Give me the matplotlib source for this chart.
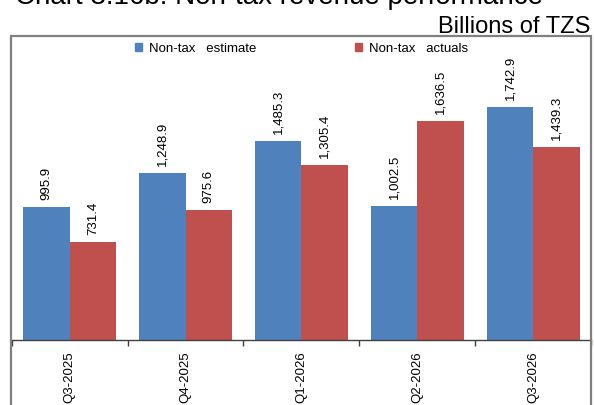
import matplotlib
matplotlib.use("Agg")
import matplotlib.pyplot as plt
from matplotlib.patches import Patch, Rectangle
import numpy as np

plt.rcParams['font.family'] = ['Liberation Sans', 'DejaVu Sans']

quarters = ["Q3-2025", "Q4-2025", "Q1-2026", "Q2-2026", "Q3-2026"]
estimate = [995.9, 1248.9, 1485.3, 1002.5, 1742.9]
actuals = [731.4, 975.6, 1305.4, 1636.5, 1439.3]
series_names = ["Non-tax   estimate", "Non-tax   actuals"]
colors = ["#4F81BD", "#C0504D"]

W, H = 594, 406
fig = plt.figure(figsize=(W / 100, H / 100), dpi=100)

# outer chart frame (bottom edge runs past the figure)
fig.patches.append(Rectangle((10.7 / W, -0.2), 580 / W, 1.2 - 37 / H,
                             transform=fig.transFigure, fill=False,
                             edgecolor="#808080", linewidth=1.6))

ax = fig.add_axes([11.7 / W, 65 / H, 579.5 / W, 267.5 / H])
x = np.arange(len(quarters))
bw = 0.4
b1 = ax.bar(x - bw / 2, estimate, bw, color=colors[0], label=series_names[0])
b2 = ax.bar(x + bw / 2, actuals, bw, color=colors[1], label=series_names[1])

for bars, vals in ((b1, estimate), (b2, actuals)):
    for rect, v in zip(bars, vals):
        ax.annotate(f"{v:,.1f}", (rect.get_x() + rect.get_width() / 2, v),
                    xytext=(0, 8), textcoords="offset pixels",
                    rotation=90, ha="center", va="bottom", fontsize=9.5)

ax.set_xlim(-0.5, len(quarters) - 0.5)
ax.set_ylim(0, 2000)
ax.set_yticks([])
for s in ("top", "right", "left"):
    ax.spines[s].set_visible(False)
ax.spines["bottom"].set_color("#404040")
ax.spines["bottom"].set_linewidth(1.0)
ax.set_xticks(x)
ax.set_xticklabels(quarters, rotation=90, fontsize=9.5)
ax.tick_params(axis="x", which="major", length=0, pad=7.5)
ax.set_xticks(np.arange(-0.5, len(quarters)), minor=True)
ax.tick_params(axis="x", which="minor", length=4, color="#404040", width=1.0)

handles = [Patch(color=colors[0]), Patch(color=colors[1])]
fig.legend(handles, series_names, loc="center", ncol=2, frameon=False,
           bbox_to_anchor=(301.4 / W, 1 - 49.3 / H), fontsize=9.5,
           handlelength=0.55, handleheight=0.55, handletextpad=0.5,
           columnspacing=7.5, borderpad=0.2)

fig.text(15 / W, 1 - 4.5 / H, "Chart 3.16b: Non-tax revenue performance",
         fontsize=20, ha="left", va="baseline")
fig.text(590 / W, 1 - 33.3 / H, "Billions of TZS", fontsize=17,
         ha="right", va="baseline")

fig.savefig("out.png", dpi=100)
